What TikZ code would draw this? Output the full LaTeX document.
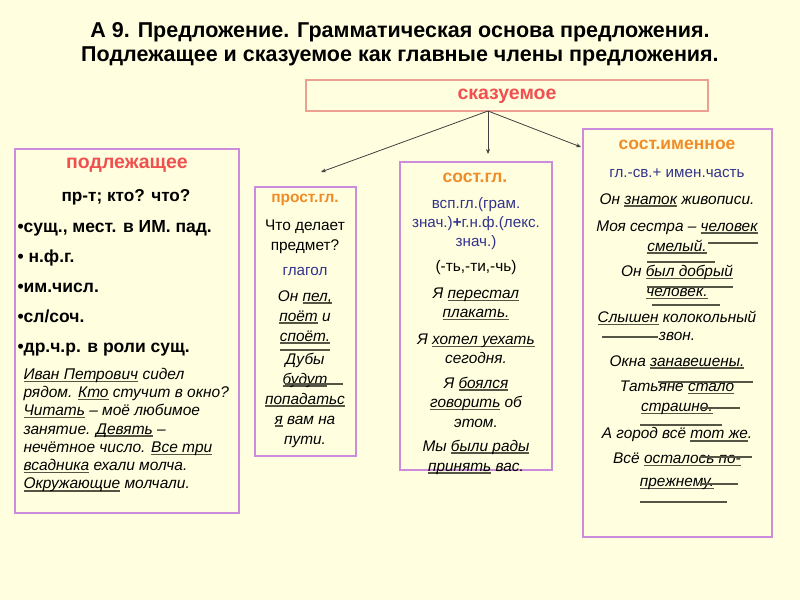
\documentclass[tikz,border=0pt]{standalone}
\usepackage{fontspec}
\setmainfont{Liberation Sans}
\usepackage{xcolor}
\usetikzlibrary{arrows.meta}

\definecolor{paper}{RGB}{255,255,224}
\definecolor{boxline}{RGB}{204,140,220}
\definecolor{skazline}{RGB}{235,160,145}
\definecolor{redhead}{RGB}{240,80,80}
\definecolor{orangehead}{RGB}{240,140,40}
\definecolor{darkblue}{RGB}{50,50,140}
\definecolor{penline}{RGB}{85,85,70}

\newcommand{\und}[1]{\setbox0\hbox{#1}\rlap{\textcolor{penline}{\rule[-2.6pt]{\wd0}{1.2pt}}}\box0\relax}

\tikzset{
  panel/.style = {draw = boxline, line width = 1.5pt, inner sep = 0pt},
  headred/.style = {text = redhead, font = \bfseries\fontsize{19.5}{22}\selectfont},
  headorange/.style = {text = orangehead, font = \bfseries\fontsize{17.5}{20}\selectfont},
  plain/.style = {font = \fontsize{15.4}{20}\selectfont, align = center},
  formula/.style = {text = darkblue, font = \fontsize{15.2}{19}\selectfont, align = center},
  example/.style = {font = \itshape\fontsize{15.4}{20}\selectfont, align = center},
  stroke/.style = {penline, line width = 1.1pt},
  branch/.style = {draw = black!75, line width = 0.8pt, -{Stealth[length = 5pt, width = 4pt]}}
}

\begin{document}
\begin{tikzpicture}[x = 1pt, y = -1pt]
\fill[paper] (0,0) rectangle (800,600);
\useasboundingbox (0,0) rectangle (800,600);

\node[align = center, font = \bfseries\fontsize{21.5}{24}\selectfont] (title) at (400,44)
  {А 9. Предложение. Грамматическая основа предложения.\\Подлежащее и сказуемое как главные члены предложения.};

% predicate box and its three branches
\node[draw = skazline, line width = 1.2pt, minimum width = 402pt, minimum height = 31pt] (skaz) at (507,95.5){};
\node[headred] (skaz_l) at (507,96){сказуемое};
\coordinate (fork) at (488,111);
\coordinate (prost_tip) at (321,172);
\coordinate (sostgl_tip) at (488,154);
\coordinate (sostim_tip) at (581,147);
\draw[branch] (fork)--(prost_tip);
\draw[branch] (fork)--(sostgl_tip);
\draw[branch] (fork)--(sostim_tip);

% subject
\node[panel, minimum width = 224pt, minimum height = 364pt] (podl) at (127,331){};
\node[headred] (podl_h) at (127,165){подлежащее};
\node[font = \bfseries\fontsize{17.2}{30}\selectfont] (podl_q) at (126,197){пр-т; кто? что?};
\node[anchor = west, align = left, font = \bfseries\fontsize{17.5}{30}\selectfont] (podl_list) at (14,288)
  {•сущ., мест. в ИМ. пад.\\• н.ф.г.\\•им.числ.\\•сл/соч.\\•др.ч.р. в роли сущ.};
\node[anchor = west, align = left, font = \itshape\fontsize{15.5}{18.3}\selectfont] (podl_ex) at (20,430)
  {\und{Иван Петрович} сидел\\рядом. \und{Кто} стучит в окно?\\\und{Читать} – моё любимое\\занятие. \und{Девять} –\\нечётное число. \und{Все три}\\\und{всадника} ехали молча.\\\und{Окружающие} молчали.};

% simple verbal predicate
\node[panel, minimum width = 101pt, minimum height = 269pt] (prost) at (305.5,321.5){};
\node[headorange, font = \bfseries\fontsize{15.5}{18}\selectfont] (prost_h) at (305,200){прост.гл.};
\node[plain] (prost_q) at (305,237){Что делает\\предмет?};
\node[formula] (prost_f) at (305,271){глагол};
\node[example] (prost_ex1) at (305,317){Он \und{пел,}\\\und{поёт} и\\\und{споёт.}};
\node[example] (prost_ex2) at (305,400){Дубы\\\und{будут}\\\und{попадатьс}\\\und{я} вам на\\пути.};
\draw[stroke] (280,350)--(330,350);
\draw[stroke] (285,384)--(343,384);

% compound verbal predicate
\node[panel, minimum width = 152pt, minimum height = 308pt] (sostgl) at (476,316){};
\node[headorange] (sostgl_h) at (475,178){сост.гл.};
\node[formula] (sostgl_f) at (476,224){всп.гл.(грам.\\знач.)\textbf{+}г.н.ф.(лекс.\\знач.)};
\node[plain] (sostgl_end) at (476,268){(-ть,-ти,-чь)};
\node[example, font = \itshape\fontsize{15.4}{19}\selectfont] (sostgl_ex1) at (476,304){Я \und{перестал}\\\und{плакать.}};
\node[example, font = \itshape\fontsize{15.4}{19}\selectfont] (sostgl_ex2) at (476,349){Я \und{хотел уехать}\\сегодня.};
\node[example, font = \itshape\fontsize{15.4}{19.5}\selectfont] (sostgl_ex3) at (476,402){Я \und{боялся}\\\und{говорить} об\\этом.};
\node[example] (sostgl_ex4) at (476,457){Мы \und{были рады}\\\und{принять} вас.};

% compound nominal predicate
\node[panel, minimum width = 189pt, minimum height = 408pt] (sostim) at (677.5,333){};
\node[headorange] (sostim_h) at (677,145){сост.именное};
\node[formula] (sostim_f) at (677,173){гл.-св.+ имен.часть};
\node[example] (sostim_ex1) at (677,200){Он \und{знаток} живописи.};
\node[example] (sostim_ex2) at (677,237){Моя сестра – \und{человек}\\\und{смелый.}};
\node[example] (sostim_ex3) at (677,282){Он \und{был добрый}\\\und{человек.}};
\node[example, font = \itshape\fontsize{15.4}{18}\selectfont] (sostim_ex4) at (677,326){\und{Слышен} колокольный\\звон.};
\node[example] (sostim_ex5) at (677,362){Окна \und{занавешены.}};
\node[example] (sostim_ex6) at (677,398){Татьяне \und{стало}\\\und{страшно.}};
\node[example] (sostim_ex7) at (677,435){А город всё \und{тот же}.};
\node[example, font = \itshape\fontsize{15.4}{23}\selectfont] (sostim_ex8) at (677,471){Всё \und{осталось по-}\\\und{прежнему.}};
\draw[stroke] (708,243)--(758,243);
\draw[stroke] (647,262)--(715,262);
\draw[stroke] (647,287)--(733,287);
\draw[stroke] (652,305)--(720,305);
\draw[stroke] (602,337)--(658,337);
\draw[stroke] (658,382)--(753,382);
\draw[stroke] (700,408)--(740,408);
\draw[stroke] (640,425)--(722,425);
\draw[stroke] (700,457)--(752,457);
\draw[stroke] (700,484)--(738,484);
\draw[stroke] (640,502)--(727,502);
\end{tikzpicture}
\end{document}
